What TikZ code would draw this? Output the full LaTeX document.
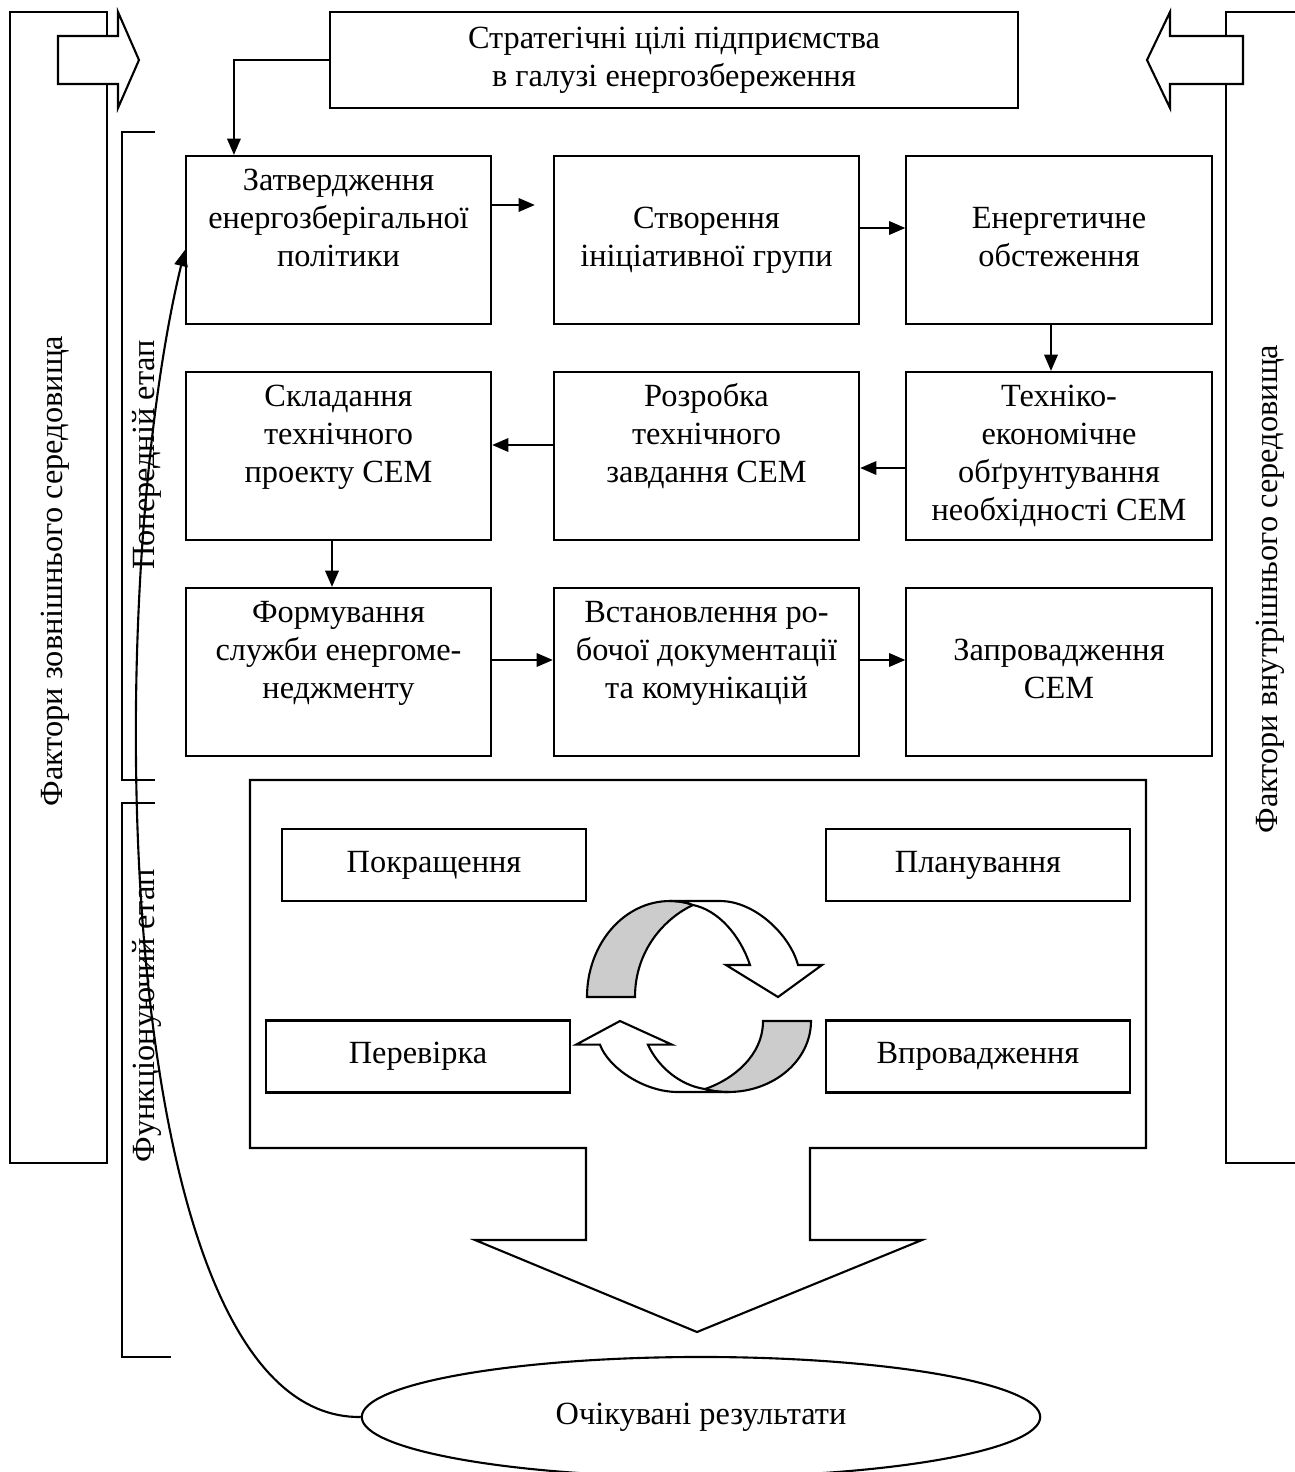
\documentclass[tikz,border=0pt]{standalone}
\usepackage{fontspec}
\setmainfont{Liberation Serif}
\usetikzlibrary{arrows.meta,shapes.geometric,calc}

\begin{document}
\begin{tikzpicture}[
  x=0.01cm,y=-0.01cm,
  font=\fontsize{9.2}{10.8}\selectfont,
  line width=0.6pt,
  stagebox/.style={draw,minimum width=3.05cm,minimum height=1.68cm,align=center,inner sep=0pt},
  cyclebox/.style={draw,minimum width=3.04cm,minimum height=0.72cm,inner sep=0pt},
  arr/.style={-{Triangle[length=4.6pt,width=3.8pt]}},
  sidetext/.style={rotate=90,inner sep=0pt},
  cyclearrow/.pic={
    \filldraw[fill=black!20] (587,997) .. controls (587,944) and (624,901) .. (670,901)
      .. controls (680,901) and (688,903) .. (693,905)
      .. controls (665,918) and (635,950) .. (635,997) -- cycle;
    \filldraw[fill=white] (670,901) -- (720,901) .. controls (755,901) and (790,935) .. (798,965)
      -- (822,965) -- (778,997) -- (726,965) -- (750,965)
      .. controls (740,935) and (718,910) .. (693,905)
      .. controls (688,903) and (680,901) .. (670,901) -- cycle;
  }
]
\useasboundingbox (0,0) rectangle (1295,1472);
% frames of the environment
\draw (10,12) rectangle (107,1163);
\draw (1320,12) -- (1226,12) -- (1226,1163) -- (1320,1163);
\filldraw[fill=white] (58,36) -- (118,36) -- (118,12) -- (139,60) -- (118,108) -- (118,84) -- (58,84) -- cycle;
\filldraw[fill=white] (1243,36) -- (1170,36) -- (1170,12) -- (1147,60) -- (1170,108) -- (1170,84) -- (1243,84) -- cycle;
\node[sidetext] (zovn) at (55,571) {Фактори зовнішнього середовища};
\node[sidetext] (vnutr) at (1270,589) {Фактори внутрішнього середовища};
% stage brackets
\draw (155,132) -- (122,132) -- (122,780) -- (155,780);
\draw (155,803) -- (122,803) -- (122,1357) -- (171,1357);
\node[sidetext] (poper) at (147,455) {Попередній етап};
\node[sidetext] (funk) at (147,1016) {Функціонуючий етап};
% preliminary stage
\node[draw,minimum width=6.88cm,minimum height=0.96cm,align=center,inner sep=0pt] (strat) at (674,60)
  {Стратегічні цілі підприємства\\в галузі енергозбереження};
\node[stagebox] (zatv) at (338.5,240) {\strut Затвердження\\енергозберігальної\\політики\\\strut};
\node[stagebox] (stvor) at (706.5,240) {\strut\\Створення\\ініціативної групи\\\strut};
\node[stagebox] (energ) at (1059,240) {\strut\\Енергетичне\\обстеження\\\strut};
\node[stagebox] (skl) at (338.5,456) {\strut Складання\\технічного\\проекту СЕМ\\\strut};
\node[stagebox] (rozr) at (706.5,456) {\strut Розробка\\технічного\\завдання СЕМ\\\strut};
\node[stagebox] (tekh) at (1059,456) {\strut Техніко-\\економічне\\обґрунтування\\необхідності СЕМ\strut};
\node[stagebox] (form) at (338.5,672) {\strut Формування\\служби енергоме-\\неджменту\\\strut};
\node[stagebox] (vstan) at (706.5,672) {\strut Встановлення ро-\\бочої документації\\та комунікацій\\\strut};
\node[stagebox] (zapr) at (1059,672) {\strut\\Запровадження\\СЕМ\\\strut};
\draw[arr] (strat.west) -| ([xshift=-1.045cm]zatv.north);
\draw[arr,shorten >=0.18cm] ([yshift=0.35cm]zatv.east) -- ([yshift=0.35cm]stvor.west);
\draw[arr] ([yshift=0.12cm]stvor.east) -- ([yshift=0.12cm]energ.west);
\draw[arr] ([xshift=-0.08cm]energ.south) -- ([xshift=-0.08cm]tekh.north);
\draw[arr] ([yshift=-0.12cm]tekh.west) -- ([yshift=-0.12cm]rozr.east);
\draw[arr] ([yshift=0.11cm]rozr.west) -- ([yshift=0.11cm]skl.east);
\draw[arr] ([xshift=-0.065cm]skl.south) -- ([xshift=-0.065cm]form.north);
\draw[arr] ([yshift=0.12cm]form.east) -- ([yshift=0.12cm]vstan.west);
\draw[arr] ([yshift=0.12cm]vstan.east) -- ([yshift=0.12cm]zapr.west);
% functioning stage
\draw (250,780) -- (1146,780) -- (1146,1148) -- (810,1148) -- (810,1240) -- (922,1240)
  -- (697,1332) -- (475,1240) -- (586,1240) -- (586,1148) -- (250,1148) -- cycle;
\node[cyclebox] (pokr) at (434,865) {Покращення};
\node[cyclebox] (plan) at (978,865) {Планування};
\node[cyclebox] (perev) at (418,1056.5) {Перевірка};
\node[cyclebox] (vprov) at (978,1056.5) {Впровадження};
\pic {cyclearrow};
\begin{scope}[shift={(1398,1092)},xscale=-1,yscale=-0.7396,shift={(0,-901)}]
  \pic[transform shape] {cyclearrow};
\end{scope}
% results
\node[draw,ellipse,minimum width=6.78cm,minimum height=1.2cm,inner sep=0pt] (result) at (701,1417)
  {Очікувані результати};
\draw[arr] (result.west) .. controls (110,1420) and (100,600) .. ([yshift=-0.1cm]zatv.west);
\end{tikzpicture}
\end{document}
